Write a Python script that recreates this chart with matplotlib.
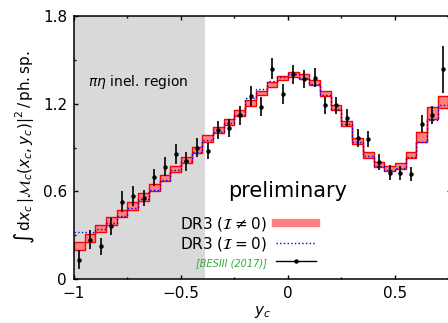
import numpy as np
import matplotlib
matplotlib.use('Agg')
import matplotlib.pyplot as plt
from matplotlib.lines import Line2D

# bins of y_c (width 0.05), only the part that is visible in the picture
edges = np.linspace(-1.0, 0.75, 36)
centers = 0.5 * (edges[:-1] + edges[1:])

# DR3 (I != 0): band centre and half width
dr3_mid = [0.225, 0.283, 0.345, 0.398, 0.448, 0.500, 0.562, 0.628, 0.690, 0.755,
           0.816, 0.880, 0.963, 1.018, 1.075, 1.135, 1.203, 1.272, 1.333, 1.375,
           1.400, 1.385, 1.343, 1.270, 1.172, 1.065, 0.946, 0.850, 0.784, 0.756,
           0.772, 0.849, 0.970, 1.136, 1.212]
dr3_err = [0.028, 0.027, 0.025, 0.025, 0.025, 0.025, 0.025, 0.023, 0.022, 0.021,
           0.021, 0.021, 0.022, 0.021, 0.020, 0.020, 0.020, 0.016, 0.016, 0.016,
           0.017, 0.017, 0.017, 0.018, 0.018, 0.018, 0.019, 0.019, 0.019, 0.019,
           0.019, 0.019, 0.034, 0.042, 0.040]

# DR3 (I = 0)
dr3_i0 = [0.320, 0.325, 0.345, 0.380, 0.430, 0.485, 0.545, 0.610, 0.675, 0.745,
          0.805, 0.870, 0.950, 1.005, 1.065, 1.125, 1.240, 1.300, 1.355, 1.380,
          1.400, 1.375, 1.335, 1.260, 1.165, 1.058, 0.935, 0.840, 0.775, 0.745,
          0.762, 0.838, 0.937, 1.087, 1.190]

# BESIII (2017) data
bes_y = [0.132, 0.269, 0.223, 0.360, 0.530, 0.569, 0.555, 0.696, 0.769, 0.855,
         0.805, 0.900, 0.873, 1.019, 1.033, 1.120, 1.250, 1.178, 1.440, 1.269,
         1.400, 1.371, 1.378, 1.190, 1.190, 1.105, 0.965, 0.958, 0.803, 0.728,
         0.728, 0.716, 1.064, 1.123, 1.435]
bes_err = [0.065, 0.065, 0.060, 0.060, 0.070, 0.068, 0.055, 0.060, 0.065, 0.068,
           0.066, 0.065, 0.055, 0.062, 0.064, 0.065, 0.068, 0.065, 0.072, 0.068,
           0.066, 0.061, 0.066, 0.059, 0.059, 0.057, 0.059, 0.055, 0.055, 0.049,
           0.048, 0.048, 0.057, 0.063, 0.160]

lo = np.array(dr3_mid) - np.array(dr3_err)
hi = np.array(dr3_mid) + np.array(dr3_err)

fig = plt.figure(figsize=(4.48, 3.23), dpi=100)
ax = fig.add_axes([74 / 448, 44 / 323, 376.6 / 448, 263 / 323])

ax.axvspan(-1.0, -0.39, color='#d9d9d9', lw=0, zorder=0)

ax.fill_between(edges, np.append(lo, lo[-1]), np.append(hi, hi[-1]), step='post',
                facecolor='#ff8080', edgecolor='red', lw=1.0, zorder=2)
ax.stairs(dr3_i0, edges, baseline=None, color='blue', ls=':', lw=1.0, zorder=3)
ax.errorbar(centers, bes_y, yerr=bes_err, fmt='o', ms=2.2, color='black',
            ecolor='black', elinewidth=1.2, capsize=0, zorder=4)

ax.set_xlim(-1.0, 0.76)
ax.set_ylim(0, 1.8)
ax.set_xticks([-1, -0.5, 0, 0.5])
ax.set_xticklabels(['\u22121', '\u22120.5', '0', '0.5'])
ax.set_xticks([-0.75, -0.25, 0.25, 0.75], minor=True)
ax.set_yticks([0, 0.6, 1.2, 1.8])
ax.set_yticklabels(['0', '0.6', '1.2', '1.8'])
ax.set_yticks([0.3, 0.9, 1.5], minor=True)
ax.tick_params(which='both', direction='in', top=True, right=True, labelsize=11, pad=5)
ax.tick_params(which='major', length=3, width=1)
ax.tick_params(which='minor', length=1.6, width=1)
for s in ax.spines.values():
    s.set_linewidth(1.1)

ax.set_xlabel(r'$y_c$', fontsize=11, labelpad=2)
ax.set_ylabel(r'$\int\,\mathrm{d}x_c\,|\mathcal{M}_c(x_c,y_c)|^2\,/\,\mathrm{ph.sp.}$',
              fontsize=11, labelpad=4)

ax.text(-0.935, 1.35, r'$\pi\eta$ inel. region', fontsize=10, va='center')
ax.text(-0.28, 0.60, 'preliminary', fontsize=15, va='center')

handles = [Line2D([], [], color='#ff8080', lw=6),
           Line2D([], [], color='blue', ls=':', lw=1),
           Line2D([], [], color='black', marker='o', ms=2.2, lw=1)]
labels = [r'DR3 ($\mathcal{I}\neq0$)', r'DR3 ($\mathcal{I}=0$)', '[BESIII (2017)]']
leg = ax.legend(handles, labels, loc='lower right', bbox_to_anchor=(0.67, 0.0),
                markerfirst=False, frameon=False, fontsize=11, handlelength=2.6,
                labelspacing=0.15, handletextpad=0.6, borderaxespad=0.3)
leg.get_texts()[2].set_color('#33aa33')
leg.get_texts()[2].set_fontsize(7)
leg.get_texts()[2].set_style('italic')

fig.savefig('out.png', dpi=100)
